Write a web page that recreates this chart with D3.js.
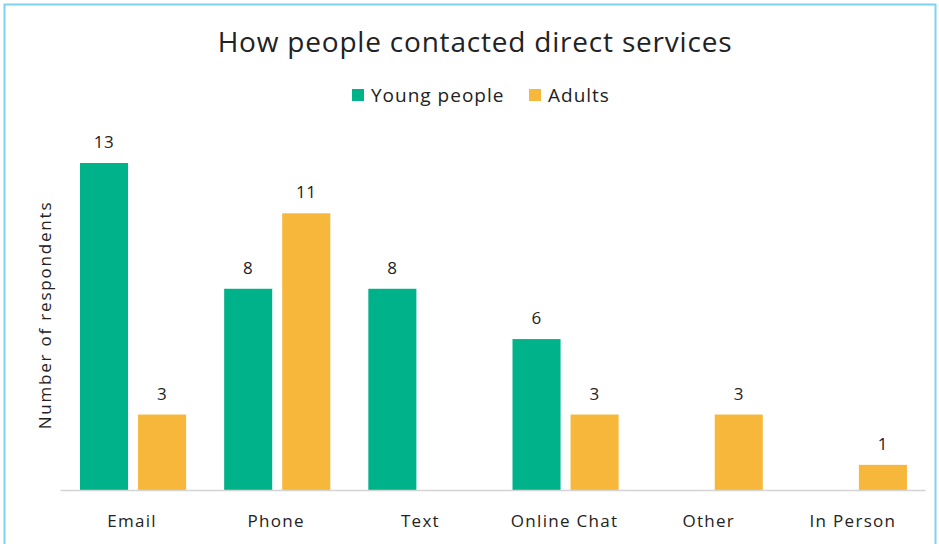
<!DOCTYPE html>
<html>
<head>
<meta charset="utf-8">
<script src="https://cdn.jsdelivr.net/npm/d3@7"></script>
<style>
  html, body { margin: 0; padding: 0; background: #fff; }
  svg { display: block; font-family: "Open Sans", "Noto Sans", sans-serif; }
</style>
</head>
<body>
<svg id="chart" width="939" height="544"></svg>
<script>
const categories = ["Email", "Phone", "Text", "Online Chat", "Other", "In Person"];
const seriesNames = ["Young people", "Adults"];
const youngPeople = [13, 8, 8, 6, 0, 0];
const adults = [3, 11, 0, 3, 3, 1];
const seriesColors = ["#00b28a", "#f7b73b"];

const svg = d3.select("#chart");

// panel frame
svg.append("rect")
  .attr("x", 4.5).attr("y", 4.5)
  .attr("width", 931).attr("height", 560)
  .attr("fill", "#fff")
  .attr("stroke", "#7fd2f0").attr("stroke-width", 2);

const plot = { left: 60, right: 925, top: 163, bottom: 490 };

const x0 = d3.scaleBand().domain(categories).range([plot.left, plot.right]).padding(0);
const x1 = d3.scaleBand().domain(seriesNames)
  .range([20, 20 + 106 * x0.bandwidth() / 144])
  .paddingInner(0.1724);
const y = d3.scaleLinear().domain([0, 13]).range([plot.bottom, plot.top]);

const values = [youngPeople, adults];
const rows = categories.map((c, i) => ({
  cat: c,
  bars: seriesNames.map((s, k) => ({ series: s, k, v: values[k][i] }))
}));

const g = svg.append("g");
const groups = g.selectAll("g.cat").data(rows).join("g")
  .attr("class", "cat")
  .attr("transform", d => `translate(${x0(d.cat)},0)`);

groups.selectAll("rect").data(d => d.bars.filter(b => b.v > 0)).join("rect")
  .attr("x", b => x1(b.series))
  .attr("y", b => y(b.v))
  .attr("width", x1.bandwidth())
  .attr("height", b => y(0) - y(b.v))
  .attr("fill", b => seriesColors[b.k]);

groups.selectAll("text.val").data(d => d.bars.filter(b => b.v > 0)).join("text")
  .attr("class", "val")
  .attr("x", b => x1(b.series) + x1.bandwidth() / 2)
  .attr("y", b => y(b.v) - 15)
  .attr("text-anchor", "middle")
  .attr("font-size", 17)
  .attr("letter-spacing", 0.5)
  .attr("fill", "#222")
  .text(b => b.v);

// baseline axis
const xAxis = d3.axisBottom(x0).tickSize(0).tickPadding(25);
const ax = svg.append("g").attr("transform", `translate(0,${plot.bottom})`).call(xAxis);
ax.select(".domain").attr("stroke", "#d4d4d4").attr("stroke-width", 1.5);
ax.selectAll("text").attr("font-size", 17).attr("fill", "#222")
  .attr("letter-spacing", 1.3)
  .attr("font-family", "'Open Sans', sans-serif");

// y axis title
svg.append("text")
  .attr("transform", `translate(51,315) rotate(-90)`)
  .attr("text-anchor", "middle")
  .attr("font-size", 17)
  .attr("letter-spacing", 1.8)
  .attr("fill", "#222")
  .text("Number of respondents");

// title
svg.append("text")
  .attr("x", 475).attr("y", 52)
  .attr("text-anchor", "middle")
  .attr("font-size", 28)
  .attr("letter-spacing", 0.8)
  .attr("fill", "#222")
  .text("How people contacted direct services");

// legend
const legend = svg.append("g");
const legendX = [352, 529];
seriesNames.forEach((s, k) => {
  legend.append("rect")
    .attr("x", legendX[k]).attr("y", 89)
    .attr("width", 12).attr("height", 12)
    .attr("fill", seriesColors[k]);
  legend.append("text")
    .attr("x", legendX[k] + 19).attr("y", 102)
    .attr("font-size", 19)
    .attr("letter-spacing", 1)
    .attr("fill", "#222")
    .text(s);
});
</script>
</body>
</html>
